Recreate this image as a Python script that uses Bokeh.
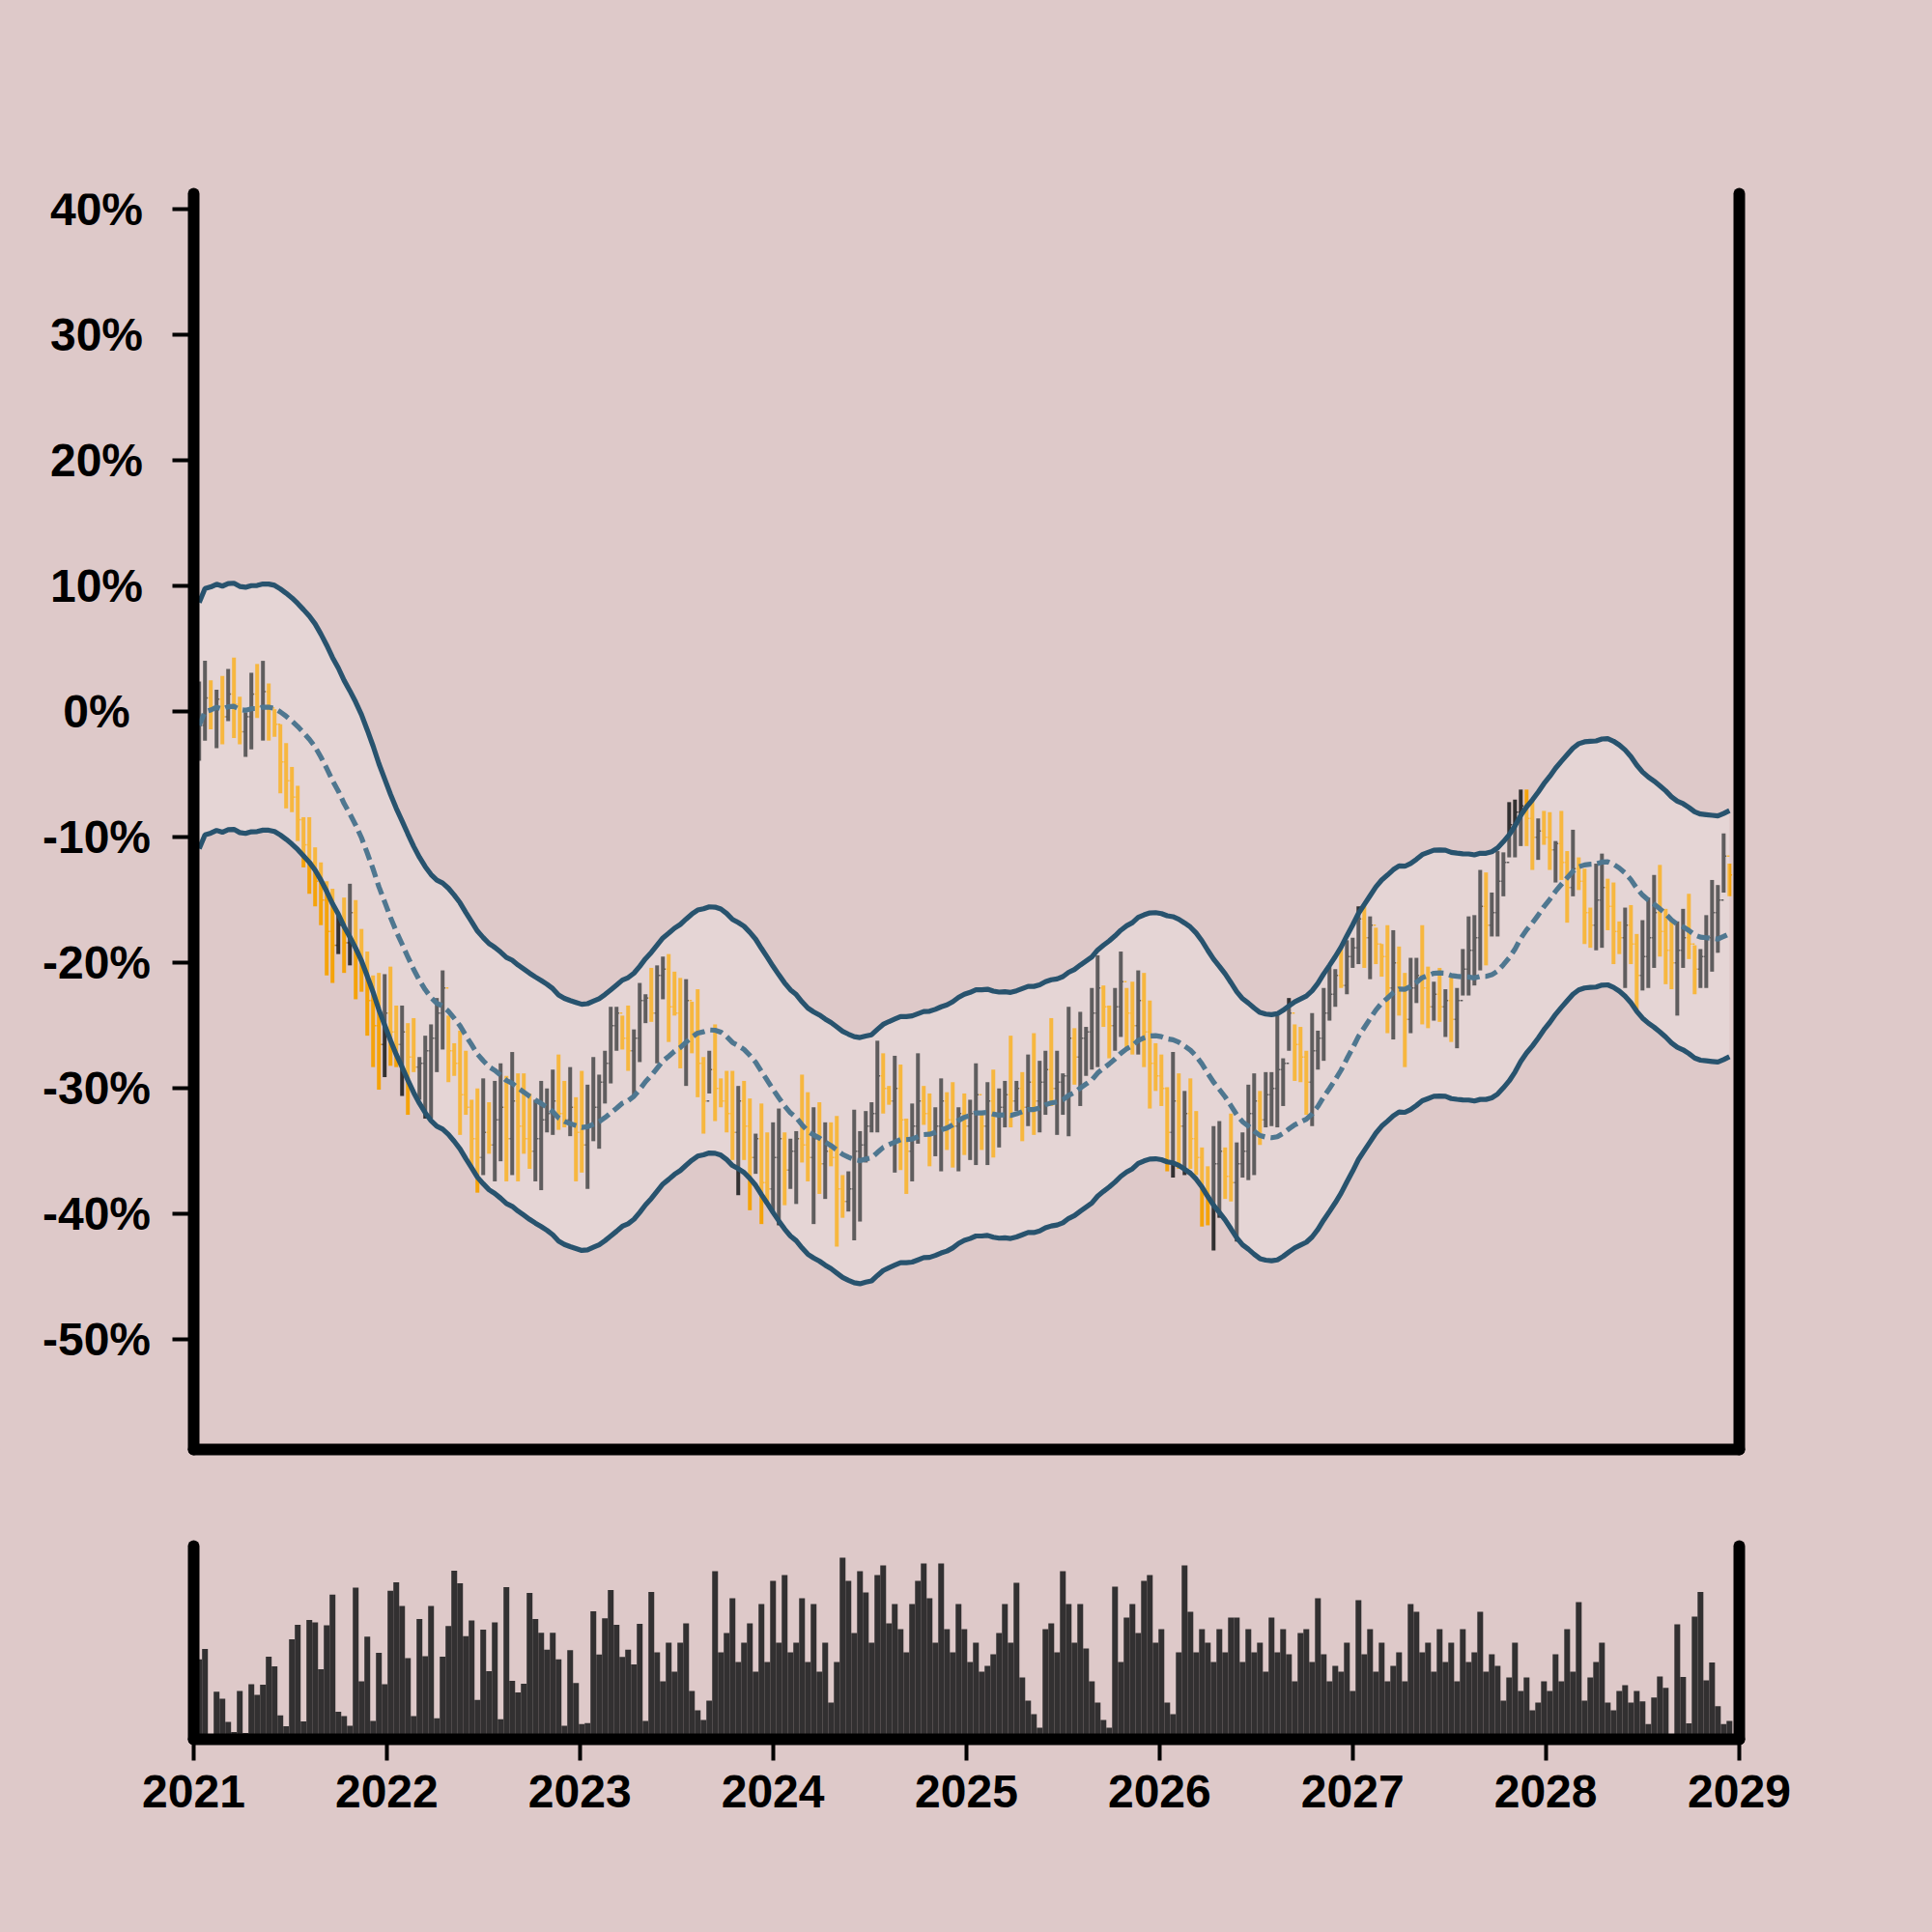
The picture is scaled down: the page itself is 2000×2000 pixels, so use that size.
import numpy as np
import pandas as pd
from bokeh.plotting import figure
from bokeh.models import Range1d, LinearAxis, FixedTicker, ColumnDataSource, CustomJSTickFormatter
from bokeh.models import GlobalInlineStyleSheet
from bokeh.core.properties import value
from bokeh.layouts import column, row
from bokeh.embed import file_html
from bokeh.resources import INLINE

# ---------------- data (% change) ----------------
high = [2.4, 4.05, 2.5, 1.75, 2.85, 3.4, 4.3, 1.2, -0.05, 3.1,
        3.8, 4.05, 2.25, 0.2, -1.0, -2.5, -4.4, -5.9, -8.4, -8.4,
        -10.8, -12.0, -13.5, -14.1, -16.1, -14.8, -13.7, -15.0, -17.3, -19.1,
        -21.0, -20.8, -20.9, -20.3, -23.4, -23.4, -24.8, -24.4, -27.5, -25.8,
        -24.9, -22.8, -20.6, -24.2, -26.4, -25.4, -27.0, -30.9, -30.0, -29.2,
        -31.1, -29.4, -28.0, -29.0, -27.1, -28.8, -28.8, -30.4, -30.9, -29.4,
        -30.0, -28.5, -27.3, -29.4, -28.3, -30.7, -28.6, -29.7, -27.5, -28.9,
        -27.0, -23.5, -23.5, -24.2, -23.4, -25.3, -21.6, -22.5, -20.4, -20.2,
        -19.5, -19.3, -20.7, -21.2, -21.3, -23.1, -22.1, -27.5, -27.0, -24.9,
        -29.2, -28.6, -28.6, -29.8, -29.4, -30.8, -33.6, -31.2, -33.5, -32.7,
        -31.6, -33.5, -34.0, -33.4, -28.9, -30.3, -31.5, -31.1, -32.7, -32.7,
        -32.2, -36.9, -36.6, -31.7, -33.4, -31.8, -31.1, -26.2, -27.2, -29.8,
        -27.4, -28.1, -32.4, -31.2, -27.2, -29.8, -30.4, -31.5, -29.2, -30.3,
        -29.5, -31.5, -30.4, -30.9, -28.0, -31.8, -29.5, -28.5, -30.0, -29.4,
        -25.8, -29.4, -28.7, -27.3, -25.6, -27.8, -27.0, -24.4, -27.0, -28.8,
        -23.5, -25.2, -23.9, -25.1, -22.0, -19.4, -21.8, -23.4, -22.0, -19.1,
        -22.0, -21.5, -20.6, -20.8, -23.0, -26.4, -27.3, -29.9, -27.1, -28.8,
        -30.2, -29.2, -31.8, -34.7, -36.2, -33.0, -32.6, -34.7, -32.0, -34.3,
        -33.5, -29.7, -28.8, -30.2, -28.7, -28.7, -24.2, -27.6, -22.8, -24.9,
        -25.1, -27.0, -24.0, -25.4, -22.0, -20.3, -20.5, -18.7, -18.2, -18.0,
        -15.5, -15.3, -16.3, -17.2, -18.5, -17.0, -17.4, -18.7, -20.8, -19.6,
        -19.6, -17.0, -20.3, -21.5, -20.4, -22.1, -20.9, -22.0, -18.9, -16.3,
        -16.2, -12.6, -12.8, -14.4, -11.1, -11.2, -7.2, -7.0, -6.2, -6.2,
        -7.1, -8.5, -7.9, -8.0, -10.3, -7.9, -11.1, -9.4, -11.6, -12.5,
        -15.6, -12.1, -11.3, -13.3, -13.6, -16.7, -15.6, -15.4, -17.7, -16.6,
        -14.8, -13.0, -12.2, -15.7, -16.5, -16.7, -15.7, -14.5, -18.6, -18.9,
        -16.2, -13.4, -13.8, -9.7, -12.1]

low = [-3.9, -2.3, -1.4, -2.9, -2.6, -0.75, -2.1, -2.6, -3.6, -3.0,
       -0.5, -2.3, -2.3, -2.0, -6.5, -7.7, -8.0, -10.3, -12.4, -14.5,
       -15.5, -17.0, -21.0, -21.6, -19.3, -20.8, -20.2, -22.9, -22.3, -25.8,
       -28.3, -30.1, -29.1, -28.2, -28.3, -30.6, -32.1, -28.7, -30.9, -32.4,
       -32.4, -28.7, -26.9, -29.5, -29.0, -33.7, -32.1, -36.2, -38.3, -36.9,
       -35.2, -37.4, -35.8, -37.4, -36.9, -37.4, -35.2, -36.4, -37.4, -38.1,
       -33.5, -33.7, -33.3, -33.1, -33.8, -37.4, -36.7, -38.0, -34.2, -34.8,
       -31.2, -29.6, -27.0, -26.9, -28.6, -30.7, -27.9, -24.8, -24.7, -28.0,
       -22.9, -26.3, -24.2, -28.4, -29.8, -27.2, -30.7, -33.6, -30.4, -32.6,
       -31.5, -33.5, -35.7, -38.5, -35.7, -39.7, -36.8, -40.8, -39.0, -39.9,
       -40.9, -39.3, -38.0, -39.2, -35.9, -37.4, -40.8, -38.4, -38.8, -36.2,
       -42.6, -40.3, -39.8, -42.1, -40.6, -35.9, -33.5, -33.5, -32.0, -31.3,
       -36.7, -36.5, -38.4, -37.4, -34.4, -32.9, -36.2, -35.4, -36.6, -34.9,
       -36.3, -36.6, -35.3, -35.7, -36.1, -34.9, -36.1, -35.5, -34.7, -33.1,
       -33.1, -31.8, -34.2, -33.0, -33.7, -33.5, -32.1, -31.4, -33.7, -32.1,
       -33.8, -29.7, -31.4, -29.0, -28.5, -28.3, -25.1, -27.6, -27.0, -25.9,
       -27.0, -27.3, -27.3, -28.3, -31.6, -30.2, -31.4, -36.6, -37.1, -36.4,
       -36.9, -36.4, -36.9, -41.0, -40.9, -42.9, -40.3, -38.8, -39.0, -42.2,
       -37.1, -37.3, -36.9, -34.5, -33.1, -33.0, -33.1, -31.4, -27.0, -29.4,
       -29.5, -32.1, -33.0, -28.5, -27.8, -24.6, -23.5, -22.0, -22.5, -20.4,
       -20.1, -20.4, -21.3, -20.1, -21.1, -25.6, -26.1, -24.2, -28.3, -25.6,
       -23.2, -24.9, -25.2, -24.6, -24.7, -25.9, -26.3, -26.8, -22.6, -22.6,
       -21.8, -20.6, -20.2, -17.9, -17.9, -14.7, -11.6, -11.6, -10.7, -10.7,
       -12.6, -11.8, -10.6, -12.6, -13.6, -13.4, -16.8, -14.7, -14.2, -18.5,
       -18.8, -19.0, -18.8, -17.4, -20.1, -19.3, -22.0, -20.1, -23.9, -22.2,
       -22.0, -20.4, -19.5, -21.7, -22.1, -24.2, -20.4, -19.7, -22.5, -22.0,
       -22.0, -20.7, -19.2, -14.4, -14.7]

close = [-1.1, 1.1, 0.4, 1.0, -0.4, 1.4, 0.6, -1.6, -0.4, 1.4,
         0.4, 1.6, 0.3, -1.0, -4.0, -5.5, -6.8, -8.6, -10.6, -12.0,
         -13.5, -15.0, -17.5, -18.6, -17.0, -18.4, -16.0, -19.5, -20.5, -23.0,
         -25.0, -26.5, -24.0, -25.5, -26.5, -25.5, -27.5, -28.3, -28.0, -27.0,
         -26.0, -24.0, -22.0, -27.0, -28.0, -30.5, -31.5, -34.0, -35.5, -33.5,
         -34.5, -32.5, -31.5, -34.0, -31.0, -33.0, -34.0, -35.0, -34.0, -32.5,
         -32.0, -31.0, -32.0, -32.5, -31.5, -33.5, -34.5, -33.0, -31.5, -29.5,
         -28.0, -25.0, -24.0, -26.0, -27.0, -26.0, -23.0, -22.8, -24.0, -21.0,
         -20.5, -23.5, -24.0, -26.5, -23.0, -25.5, -28.0, -31.0, -28.5, -30.0,
         -31.0, -32.0, -33.5, -31.0, -33.0, -35.5, -34.0, -37.5, -38.0, -35.5,
         -34.0, -36.5, -35.0, -34.0, -34.5, -35.5, -34.0, -36.0, -35.0, -35.5,
         -38.0, -39.0, -38.0, -35.0, -34.5, -33.0, -32.0, -29.0, -30.0, -31.0,
         -30.0, -32.5, -35.0, -33.0, -31.0, -32.0, -33.5, -33.0, -31.0, -32.5,
         -33.0, -32.0, -33.0, -32.0, -30.5, -33.0, -31.0, -32.0, -31.5, -30.5,
         -31.0, -30.0, -31.5, -29.5, -31.0, -29.5, -28.5, -30.0, -29.5, -29.0,
         -26.0, -27.5, -26.0, -25.5, -24.0, -22.0, -23.5, -25.0, -23.5, -21.5,
         -24.0, -25.0, -23.0, -25.5, -28.0, -29.0, -30.0, -33.5, -31.0, -33.0,
         -32.0, -34.0, -35.5, -38.0, -39.0, -36.0, -35.0, -37.0, -37.5, -36.0,
         -35.0, -32.0, -31.0, -32.5, -30.5, -30.0, -28.5, -28.0, -24.0, -26.5,
         -27.5, -29.5, -27.0, -26.0, -24.0, -22.5, -21.0, -21.8, -19.5, -18.8,
         -16.5, -18.0, -17.0, -18.5, -19.5, -22.0, -20.0, -22.0, -24.5, -22.0,
         -21.0, -22.0, -23.5, -22.5, -23.5, -23.0, -24.5, -23.0, -20.5, -19.0,
         -18.0, -15.5, -17.0, -16.0, -13.5, -12.0, -9.0, -8.0, -7.5, -8.5,
         -10.0, -9.5, -10.0, -11.0, -10.5, -12.0, -14.0, -12.5, -13.5, -16.0,
         -17.0, -15.0, -14.0, -15.5, -17.5, -18.0, -17.0, -18.5, -21.0, -19.5,
         -18.0, -16.0, -17.5, -19.0, -20.0, -19.0, -18.0, -18.5, -20.5, -19.5,
         -18.0, -16.0, -15.0, -11.5, -13.0]

first_open = -2.0

volume = [41.4, 46.7, 0.5, 24.6, 21.0, 9.0, 3.7, 25.0, 3.3, 28.5,
          23.0, 28.3, 42.7, 37.7, 12.4, 6.7, 51.8, 59.3, 9.2, 61.8,
          60.5, 36.3, 59.0, 74.9, 14.2, 12.0, 7.0, 78.5, 30.0, 53.1,
          9.5, 44.7, 28.5, 76.9, 81.2, 69.0, 42.0, 12.0, 62.3, 43.0,
          69.0, 10.9, 42.7, 58.6, 87.3, 80.7, 53.4, 61.5, 20.4, 56.8,
          35.2, 60.5, 10.4, 78.7, 30.2, 24.3, 28.8, 75.7, 62.3, 55.1,
          46.4, 55.1, 41.4, 7.0, 46.1, 29.1, 7.9, 8.4, 66.2, 43.9,
          62.6, 77.2, 59.3, 42.6, 46.4, 38.8, 59.8, 9.5, 76.2,
          45, 30, 50, 35, 50, 60, 25, 15, 10, 20, 87,
          45, 55, 73, 40, 50, 60, 35, 70, 40, 82,
          50, 85, 45, 50, 73, 40, 70, 35, 50, 19,
          40, 94, 82, 55, 87, 76, 50, 85, 90, 60,
          70, 57, 45, 70, 82, 91, 73, 50, 91, 57,
          45, 70, 57, 40, 50, 35, 38, 44, 55, 70,
          50, 81, 32, 20, 13, 6, 57, 60, 45, 87,
          70, 50, 70, 47, 30, 19, 10, 6, 79, 40,
          63, 70, 55, 82, 85, 50, 57, 19, 13, 45,
          90, 66, 45, 57, 50, 40, 57, 45, 63, 63,
          40, 57, 45, 50, 35, 63, 45, 57, 44, 30,
          55, 57, 40, 73, 44, 30, 38, 35, 50, 25,
          72, 44, 57, 35, 50, 30, 38, 45, 30, 70,
          66, 45, 50, 35, 57, 40, 50, 30, 57, 40,
          45, 66, 35, 44, 38, 20, 32, 50, 25, 32,
          15, 19, 30, 25, 44, 30, 57, 35, 71, 20,
          32, 40, 50, 19, 15, 25, 28, 19, 25, 19.6,
          7.9, 21.6, 32.5, 26.6, 1.0, 59.5, 32.2, 8.2, 63.5, 76.2,
          30.5, 39.7, 17.1, 7.9, 9.5]

y_ticks = [-50, -40, -30, -20, -10, 0, 10, 20, 30, 40]
y_tick_labels = ["-50%", "-40%", "-30%", "-20%", "-10%", "0%", "10%", "20%", "30%", "40%"]
year_ticks = [2021, 2022, 2023, 2024, 2025, 2026, 2027, 2028, 2029]

# ---------------- derived ----------------
n = len(close)
dates = pd.date_range("2021-01-11 10:00", periods=n, freq="263h")
step = pd.Timedelta(hours=263)
opens = [first_open] + close[:-1]
up = [c > o for c, o in zip(close, opens)]

BG = "#DEC9C9"
UPC = "#323031"
DNC = "#F5A30A"
BANDC = "#28536E"
MIDC = "#4F7790"
VOLC = "#323031"
FONT = "Liberation Sans"
FSIZE = "48px"

colors = [UPC if u else DNC for u in up]
mid = pd.Series(close).rolling(20, min_periods=1).mean()
half_width = 9.8
upper = mid + half_width
lower = mid - half_width

tick_len = pd.Timedelta(days=5)
src = ColumnDataSource(dict(
    x=dates, xo=dates - tick_len, xc=dates + tick_len,
    high=high, low=low, open=opens, close=close, color=colors,
    mid=mid, upper=upper, lower=lower))

xr = Range1d(start=pd.Timestamp("2021-01-01"), end=pd.Timestamp("2029-01-01"))
yr = Range1d(-58.75, 41.25)


def style_axis(ax):
    ax.axis_line_width = 12
    ax.axis_line_color = "black"
    ax.axis_line_cap = "round"
    ax.major_tick_line_width = 4
    ax.major_tick_line_color = "black"
    ax.major_tick_out = 22
    ax.major_tick_in = 0
    ax.minor_tick_line_color = None
    ax.major_label_text_font = FONT
    ax.major_label_text_font_style = "bold"
    ax.major_label_text_font_size = FSIZE
    ax.major_label_text_color = "black"


LABW = 160  # width of the strip that holds the centred y tick labels

# ---------------- y-label strip (labels centred, as in the reference) ----------------
lab = figure(width=LABW, height=1550, x_range=Range1d(0, LABW), y_range=yr,
             output_backend="svg", toolbar_location=None,
             x_axis_location=None, y_axis_location=None,
             min_border_left=0, min_border_right=0, min_border_top=200, min_border_bottom=50,
             background_fill_color=None, border_fill_color=BG, outline_line_color=None)
lab.grid.visible = False
lsrc = ColumnDataSource(dict(x=[99.5] * len(y_ticks), y=y_ticks, text=y_tick_labels))
lab.text(x="x", y="y", text="text", source=lsrc, text_align="center", text_baseline="middle",
         text_font=value(FONT), text_font_style="bold", text_font_size="48px", text_color="black")

# ---------------- main figure ----------------
p = figure(width=2000 - LABW, height=1550, x_range=xr, y_range=yr,
           x_axis_type="datetime", output_backend="svg", toolbar_location=None,
           min_border_left=200 - LABW, min_border_right=200, min_border_top=200,
           min_border_bottom=50, background_fill_color=None, border_fill_color=BG,
           outline_line_color=None)
p.grid.visible = False

p.segment(x0="x", y0="low", x1="x", y1="high", source=src, line_color="color", line_width=4.0)
p.segment(x0="xo", y0="open", x1="x", y1="open", source=src, line_color="color", line_width=1.5)
p.segment(x0="x", y0="close", x1="xc", y1="close", source=src, line_color="color", line_width=1.5)

p.varea(x="x", y1="lower", y2="upper", source=src, fill_color="white", fill_alpha=0.22)
p.line(x="x", y="upper", source=src, line_color=BANDC, line_width=5.2)
p.line(x="x", y="lower", source=src, line_color=BANDC, line_width=5.2)
p.line(x="x", y="mid", source=src, line_color=MIDC, line_width=5.2,
       line_dash="13 6", line_cap="butt")

style_axis(p.yaxis[0])
p.yaxis[0].ticker = FixedTicker(ticks=y_ticks)
p.yaxis[0].formatter = CustomJSTickFormatter(code="return '';")
p.yaxis[0].major_label_standoff = 0
p.yaxis[0].major_label_text_color = None

style_axis(p.xaxis[0])
p.xaxis[0].ticker = FixedTicker(ticks=[])

rax = LinearAxis(ticker=FixedTicker(ticks=[]))
style_axis(rax)
p.add_layout(rax, "right")

# ---------------- volume figure ----------------
v = figure(width=2000, height=450, x_range=xr, y_range=Range1d(0, 100),
           x_axis_type="datetime", output_backend="svg", toolbar_location=None,
           min_border_left=200, min_border_right=200, min_border_top=50,
           min_border_bottom=200, background_fill_color=None, border_fill_color=BG,
           outline_line_color=None)
v.grid.visible = False
vsrc = ColumnDataSource(dict(x=dates, vol=volume))
v.vbar(x="x", top="vol", bottom=0, width=step, source=vsrc, fill_color=VOLC, line_color=None)

style_axis(v.xaxis[0])
v.xaxis[0].ticker = FixedTicker(ticks=[pd.Timestamp(f"{y}-01-01").value / 1e6 for y in year_ticks])
v.xaxis[0].formatter = CustomJSTickFormatter(code="return String(new Date(tick).getUTCFullYear());")
v.xaxis[0].major_label_standoff = 15

style_axis(v.yaxis[0])
v.yaxis[0].ticker = FixedTicker(ticks=[])

vrax = LinearAxis(ticker=FixedTicker(ticks=[]))
style_axis(vrax)
v.add_layout(vrax, "right")

layout = column(row(lab, p, spacing=0), v, spacing=0, styles={"background-color": BG})
layout.stylesheets = [GlobalInlineStyleSheet(css="html, body { margin: 0; padding: 0; background: %s; }" % BG)]
open("out.html", "w").write(file_html(layout, INLINE))
